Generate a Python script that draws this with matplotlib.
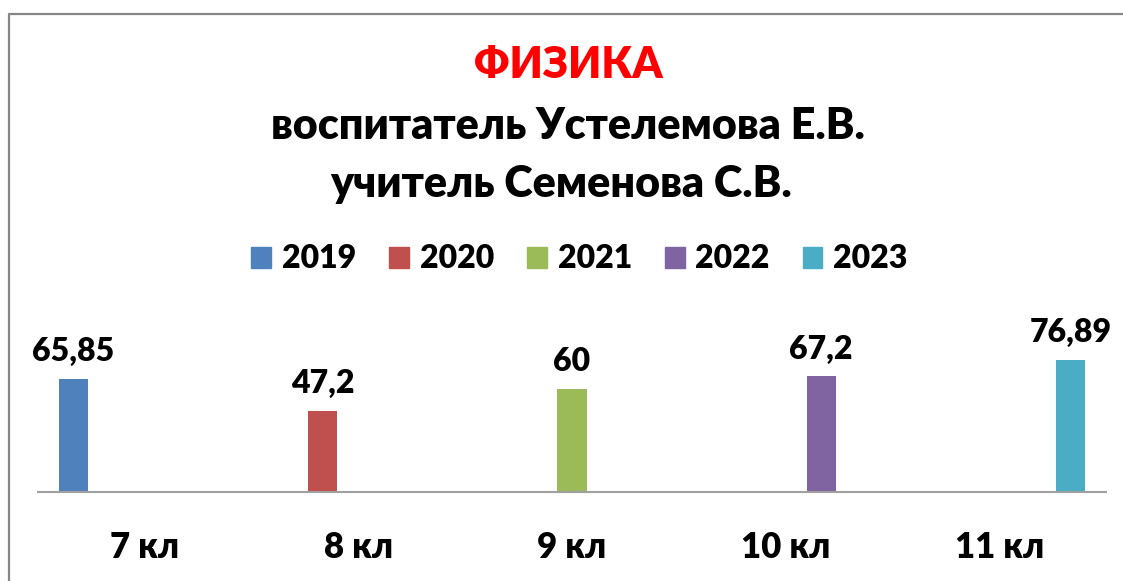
import matplotlib
matplotlib.use("Agg")
import matplotlib.pyplot as plt
from matplotlib.patches import Patch
from matplotlib.lines import Line2D

# data
classes = ["7 кл", "8 кл", "9 кл", "10 кл", "11 кл"]
years = ["2019", "2020", "2021", "2022", "2023"]
scores = [65.85, 47.2, 60, 67.2, 76.89]   # year i was tested in class i
colors = ["#4F81BD", "#C0504D", "#9BBB59", "#8064A2", "#4BACC6"]

plt.rcParams['font.family'] = ['Lato', 'DejaVu Sans']
WT = "heavy"

W, H = 1123, 581
fig = plt.figure(figsize=(W / 100, H / 100), dpi=100)

# chart border (only top and left visible in the crop)
fig.add_artist(Line2D([9 / W, 9 / W, 1.01], [-0.01, 1 - 14 / H, 1 - 14 / H],
                      transform=fig.transFigure, color="#868686", lw=1.6))

# title block
tx = 568 / W
fig.text(tx, 1 - 65 / H, "ФИЗИКА", color="#FF0000", fontsize=31,
         ha="center", va="center", fontweight=WT)
fig.text(tx, 1 - 126 / H, "воспитатель Устелемова Е.В.", color="black",
         fontsize=31, ha="center", va="center", fontweight=WT)
fig.text(tx - 0.006, 1 - 184 / H, "учитель Семенова С.В.", color="black",
         fontsize=31, ha="center", va="center", fontweight=WT)

ax = fig.add_axes([38 / W, 1 - 492 / H, (1106 - 38) / W, 172 / H])

slot = 1 / 6
for j, (yr, v) in enumerate(zip(years, scores)):
    x = j + (j - 2) * slot
    ax.bar(x, v, width=0.136, color=colors[j], zorder=2)
    ax.annotate(f"{v:g}".replace(".", ","), (x, v), xytext=(0, 9),
                textcoords="offset points", ha="center", va="bottom",
                fontsize=23, fontweight=WT)

ax.set_xlim(-0.5, 4.5)
ax.set_ylim(0, 100)
ax.set_xticks(range(len(classes)))
ax.set_xticklabels(classes, fontsize=25, fontweight=WT)
ax.tick_params(axis="x", length=0, pad=28)
ax.set_yticks([])
for s in ["top", "right", "left"]:
    ax.spines[s].set_visible(False)
ax.spines["bottom"].set_color("#A0A0A0")
ax.spines["bottom"].set_linewidth(1.5)
ax.patch.set_alpha(0)

handles = [Patch(color=c, label=y) for c, y in zip(colors, years)]
fig.legend(handles=handles, loc="center", bbox_to_anchor=(0.516, 1 - 259 / H),
           ncol=5, frameon=False, handlelength=0.62,
           handleheight=0.62, handletextpad=0.34, columnspacing=1.03,
           prop={"weight": WT, "size": 23})

fig.savefig("out.png", dpi=100)
